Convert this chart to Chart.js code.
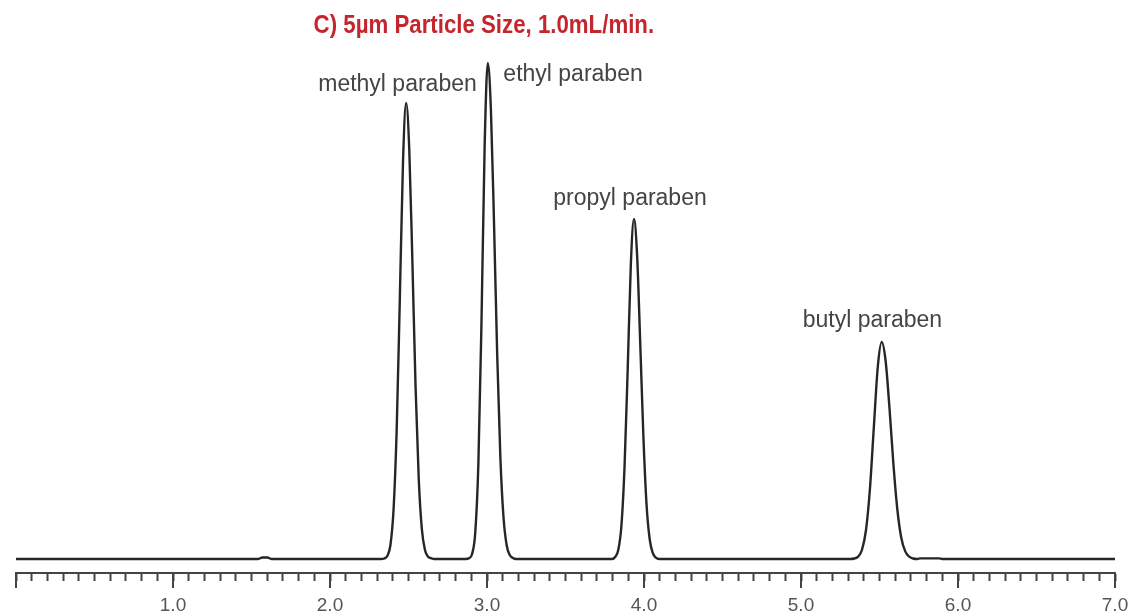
<!DOCTYPE html>
<html>
<head>
<meta charset="utf-8">
<script src="https://cdn.jsdelivr.net/npm/chart.js@4/dist/chart.umd.min.js"></script>
<style>
  html, body { margin: 0; padding: 0; background: #ffffff; }
  #wrap { width: 1128px; height: 616px; position: relative; }
</style>
</head>
<body>
<div id="wrap"><canvas id="c"></canvas></div>
<script>
// Retention time (min) and detector signal
const retentionTime = [
  0, 1.0, 1.54, 1.57, 1.60, 1.63, 2.2,
  2.325, 2.345, 2.365, 2.385, 2.405, 2.425, 2.445, 2.465, 2.485, 2.505, 2.525, 2.545, 2.565, 2.585, 2.605, 2.625, 2.645, 2.665,
  2.865, 2.885, 2.905, 2.925, 2.945, 2.965, 2.985, 3.005, 3.025, 3.045, 3.065, 3.085, 3.105, 3.125, 3.145, 3.165, 3.185,
  3.796, 3.816, 3.836, 3.856, 3.876, 3.896, 3.916, 3.936, 3.956, 3.976, 3.996, 4.016, 4.036, 4.056, 4.076, 4.096,
  5.314, 5.339, 5.364, 5.389, 5.414, 5.439, 5.464, 5.489, 5.514, 5.539, 5.564, 5.589, 5.614, 5.639, 5.664, 5.689, 5.714, 5.739,
  5.76, 5.88, 5.90, 7.0
];
const signal = [
  0, 0, 0, 1.5, 1.5, 0, 0,
  0, 0.5, 3, 14, 50, 131, 262, 397, 456, 409, 296, 172, 81, 30, 9, 2.3, 0.8, 0,
  0, 0.7, 5, 26, 95, 238, 413, 496, 449, 334, 204, 102, 42, 14, 4, 1, 0,
  0, 2, 9, 33, 92, 189, 294, 340, 304, 216, 123, 55, 20, 6, 1.3, 0,
  0, 0.5, 2.4, 9.5, 29, 70, 132, 192, 217, 198, 150, 94, 49, 21, 7.6, 2.3, 0.5, 0,
  0.6, 0.6, 0, 0
];
const peakNames = ["methyl paraben", "ethyl paraben", "propyl paraben", "butyl paraben"];
const titleText = "C) 5\u00b5m Particle Size, 1.0mL/min.";
const majorTickValues = [0, 1, 2, 3, 4, 5, 6, 7];

// label anchors (data coordinates: time, signal)
const labelAnchors = [
  { x: 2.43, y: 468 },
  { x: 3.548, y: 478 },
  { x: 3.911, y: 354 },
  { x: 5.455, y: 232 }
];
const titleAnchor = { x: 2.98, y: 526 };

const points = retentionTime.map((t, i) => ({ x: t, y: signal[i] }));

const annotate = {
  id: 'annotate',
  afterDraw(chart) {
    const { ctx, scales: { x, y } } = chart;
    ctx.save();
    // major ticks
    ctx.strokeStyle = '#444';
    ctx.lineWidth = 2;
    majorTickValues.forEach(v => {
      const px = Math.round(x.getPixelForValue(v));
      ctx.beginPath();
      ctx.moveTo(px, x.top);
      ctx.lineTo(px, x.top + 15);
      ctx.stroke();
    });
    // peak labels
    ctx.fillStyle = '#444';
    ctx.font = '23px "Liberation Sans", Arial, sans-serif';
    ctx.textAlign = 'center';
    ctx.textBaseline = 'alphabetic';
    peakNames.forEach((n, i) => {
      ctx.fillText(n, x.getPixelForValue(labelAnchors[i].x), y.getPixelForValue(labelAnchors[i].y));
    });
    // title (condensed horizontally)
    ctx.fillStyle = '#c4262e';
    ctx.font = 'bold 25px "Liberation Sans", Arial, sans-serif';
    ctx.translate(x.getPixelForValue(titleAnchor.x), y.getPixelForValue(titleAnchor.y));
    ctx.scale(0.89, 1);
    ctx.fillText(titleText, 0, 0);
    ctx.restore();
  }
};

new Chart(document.getElementById('c'), {
  type: 'line',
  data: {
    datasets: [{
      data: points,
      borderColor: '#262626',
      borderWidth: 2.4,
      pointRadius: 0,
      fill: false,
      cubicInterpolationMode: 'monotone'
    }]
  },
  options: {
    responsive: true,
    maintainAspectRatio: false,
    animation: false,
    layout: { padding: { left: 16, right: 13, top: 40, bottom: 0 } },
    plugins: { legend: { display: false }, tooltip: { enabled: false }, title: { display: false } },
    scales: {
      x: {
        type: 'linear',
        min: 0,
        max: 7,
        afterFit: (s) => { s.height = 43; s.paddingLeft = 0; s.paddingRight = 0; },
        border: { display: true, color: '#444', width: 2 },
        grid: { drawOnChartArea: false, drawTicks: true, tickLength: 8, tickColor: '#444', tickWidth: 2 },
        ticks: {
          stepSize: 0.1,
          autoSkip: false,
          maxRotation: 0,
          maxTicksLimit: 200,
          padding: 13,
          color: '#555',
          font: { family: '"Liberation Sans", Arial, sans-serif', size: 19 },
          callback: (v) => {
            const r = Math.round(v);
            return (Math.abs(v - r) < 1e-6 && r >= 1) ? r.toFixed(1) : '';
          }
        }
      },
      y: {
        display: false,
        min: -14,
        max: 519
      }
    }
  },
  plugins: [annotate]
});
</script>
</body>
</html>
